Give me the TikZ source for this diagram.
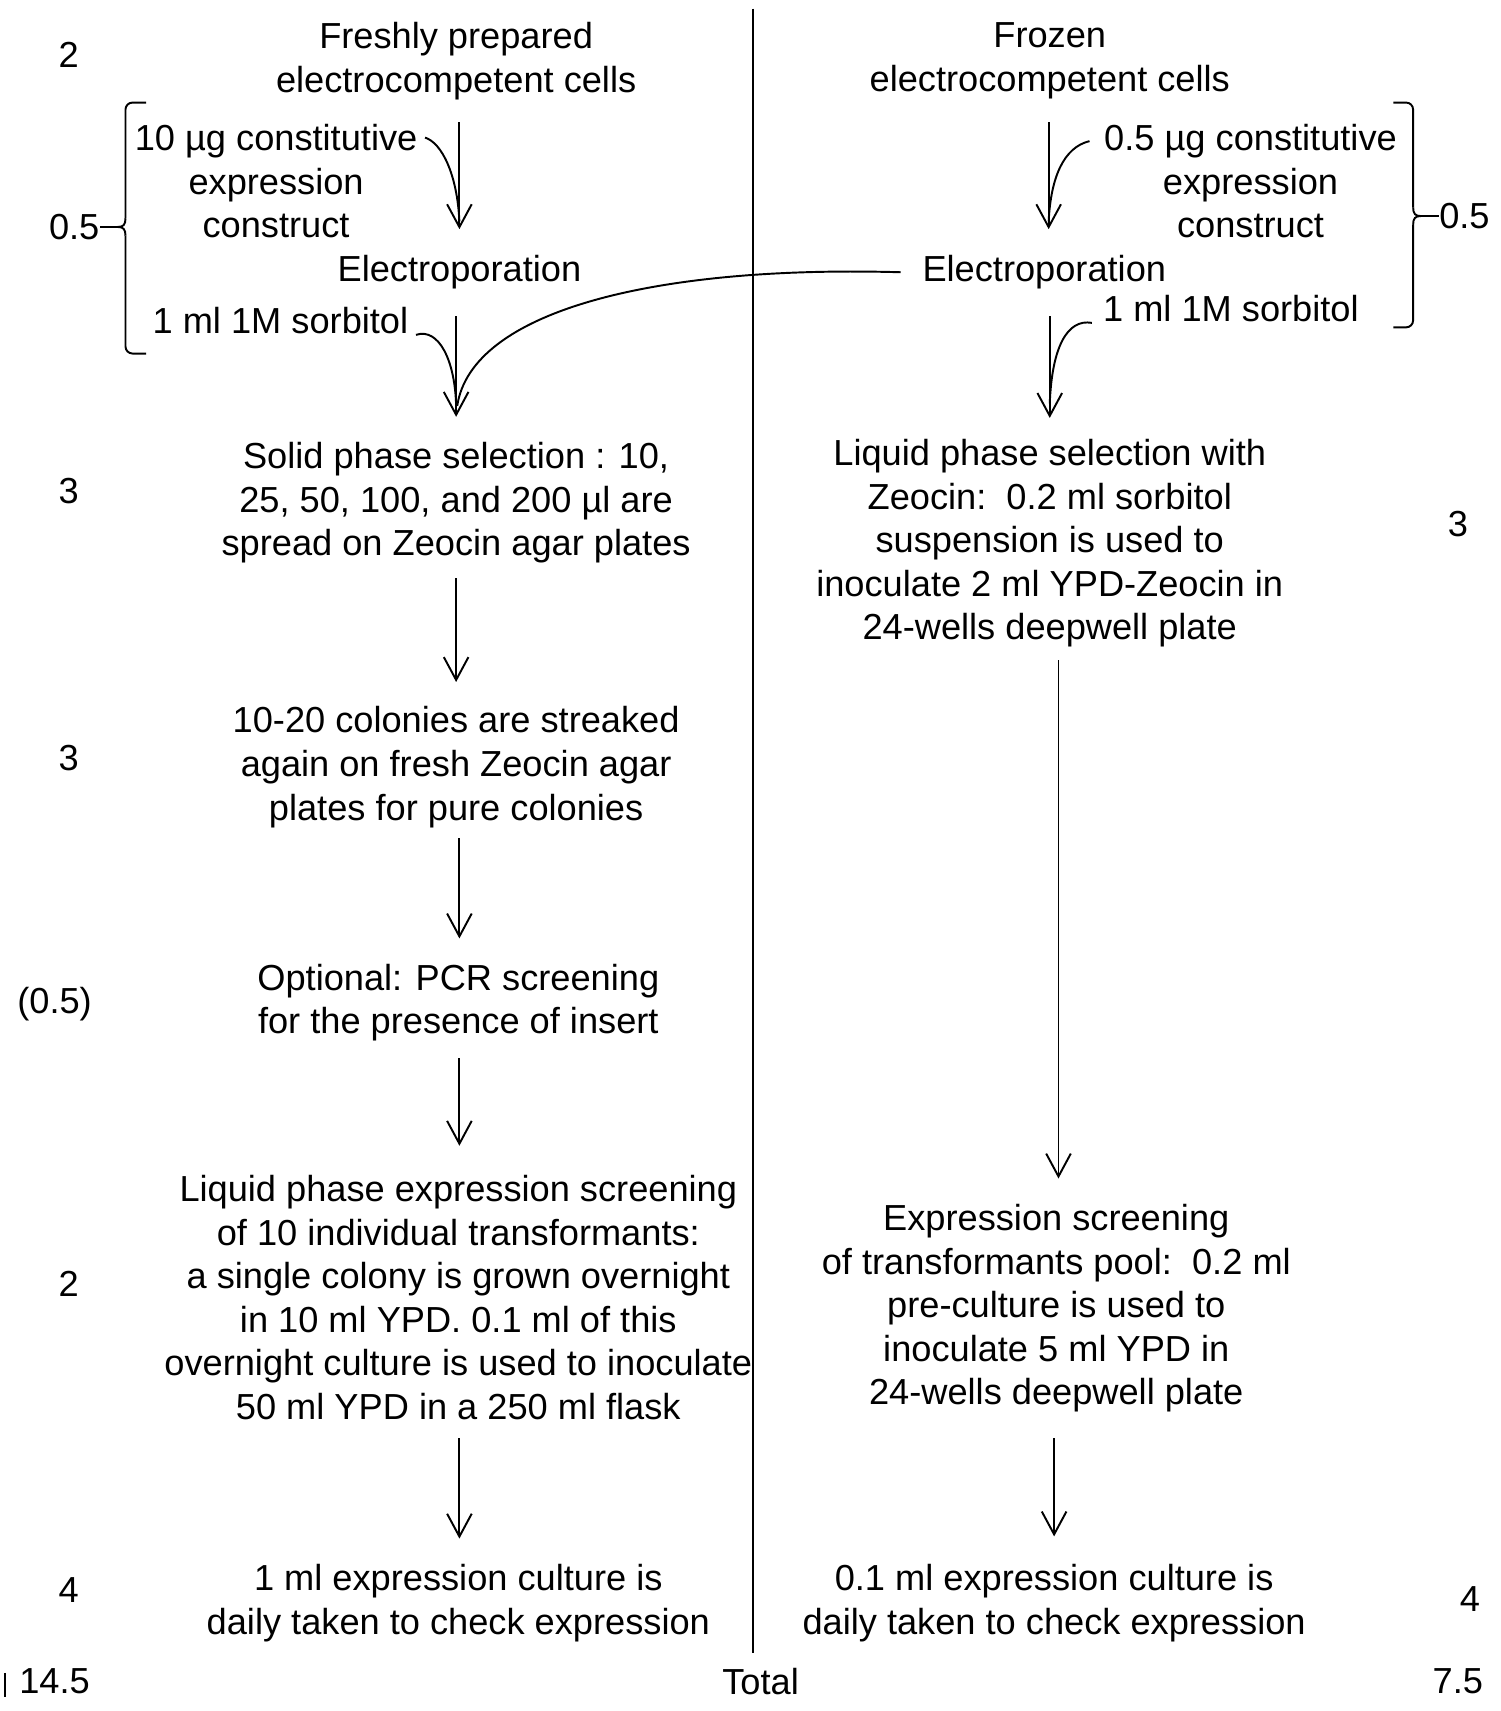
\documentclass[tikz,border=0pt]{standalone}
\usepackage{fontspec}
\setmainfont{Liberation Sans}
\usetikzlibrary{arrows.meta}
\begin{document}
\begin{tikzpicture}[x=0.010909cm, y=-0.010909cm,
  txt/.style={align=center, inner sep=0pt, font=\fontsize{10.3}{12.4}\selectfont},
  arr/.style={-{Straight Barb[length=6.5pt,width=7pt]}, line width=0.55pt},
  ln/.style={line width=0.55pt},
  brk/.style={line width=0.55pt, rounded corners=2pt}]
\useasboundingbox (0,0) rectangle (1375,1568);

% divider
\draw[ln] (690,8) coordinate (divtop) -- (690,1515) coordinate (divbot);
\draw[ln] (5,1533) coordinate (tk1) -- (5,1555) coordinate (tk2);

% ---------- left column ----------
\node[txt] (freshL) at (418,56) {Freshly prepared\\electrocompetent cells};
\node[txt] (constrL) at (253,166) {10 µg constitutive\\expression\\construct};
\node[txt] (electroL) at (421,249.5) {Electroporation};
\node[txt] (sorbL) at (257,294) {1 ml 1M sorbitol};
\node[txt] (solid) at (418,461) {Solid phase selection : 10,\\25, 50, 100, and 200 µl are\\spread on Zeocin agar plates};
\node[txt] (colon) at (418,703) {10-20 colonies are streaked\\again on fresh Zeocin agar\\plates for pure colonies};
\node[txt] (optn) at (420,919) {Optional: PCR screening\\for the presence of insert};
\node[txt] (lqexpr) at (420,1189) {Liquid phase expression screening\\of 10 individual transformants:\\a single colony is grown overnight\\in 10 ml YPD. 0.1 ml of this\\overnight culture is used to inoculate\\50 ml YPD in a 250 ml flask};
\node[txt] (culL) at (420,1469) {1 ml expression culture is\\daily taken to check expression};

% left numbers
\node[txt] (nL1) at (63,50) {2};
\node[txt] (nL2) at (68,208) {0.5};
\node[txt] (nL3) at (63,450) {3};
\node[txt] (nL4) at (63,695) {3};
\node[txt] (nL5) at (50,920) {(0.5)};
\node[txt] (nL6) at (63,1177) {2};
\node[txt] (nL7) at (63,1457) {4};
\node[txt] (totL) at (50,1541) {14.5};
\node[txt] (tot) at (697,1541) {Total};

% ---------- right column ----------
\node[txt] (frozR) at (962,56) {Frozen\\electrocompetent cells};
\node[txt] (constrR) at (1146,166) {0.5 µg constitutive\\expression\\construct};
\node[txt] (electroR) at (957,249.5) {Electroporation};
\node[txt] (sorbR) at (1128,283) {1 ml 1M sorbitol};
\node[txt] (lqsel) at (962,498) {Liquid phase selection with\\Zeocin:\ \ 0.2 ml sorbitol\\suspension is used to\\inoculate 2 ml YPD-Zeocin in\\24-wells deepwell plate};
\node[txt] (exprR) at (968,1199) {Expression screening\\of transformants pool:\ \ 0.2 ml\\pre-culture is used to\\inoculate 5 ml YPD in\\24-wells deepwell plate};
\node[txt] (culR) at (966,1469) {0.1 ml expression culture is\\daily taken to check expression};

% right numbers
\node[txt] (nR1) at (1342,198) {0.5};
\node[txt] (nR2) at (1336,480) {3};
\node[txt] (nR3) at (1347,1465) {4};
\node[txt] (totR) at (1336,1541) {7.5};

% ---------- arrow end points ----------
\coordinate (aL1s) at (421,112); \coordinate (aL1e) at (421,210);
\coordinate (aL2s) at (418,290); \coordinate (aL2e) at (418,382);
\coordinate (aL3s) at (418,530); \coordinate (aL3e) at (418,625);
\coordinate (aL4s) at (421,768); \coordinate (aL4e) at (421,860);
\coordinate (aL5s) at (421,970); \coordinate (aL5e) at (421,1050);
\coordinate (aL6s) at (421,1318); \coordinate (aL6e) at (421,1410);
\coordinate (aR1s) at (961,112); \coordinate (aR1e) at (961,210);
\coordinate (aR2s) at (962,290); \coordinate (aR2e) at (962,383);
\coordinate (aR3s) at (970,605); \coordinate (aR3e) at (970,1080);
\coordinate (aR4s) at (966,1318); \coordinate (aR4e) at (966,1408);

\draw[arr] (aL1s) -- (aL1e);
\draw[arr] (aL2s) -- (aL2e);
\draw[arr] (aL3s) -- (aL3e);
\draw[arr] (aL4s) -- (aL4e);
\draw[arr] (aL5s) -- (aL5e);
\draw[arr] (aL6s) -- (aL6e);
\draw[arr] (aR1s) -- (aR1e);
\draw[arr] (aR2s) -- (aR2e);
\draw[arr] (aR3s) -- (aR3e);
\draw[arr] (aR4s) -- (aR4e);

% curved feeders
\draw[ln] ([xshift=2pt,yshift=-4pt]constrL.north east) .. controls (405,131) and (419,160) .. (421,203);
\draw[ln] ([xshift=2pt,yshift=-4pt]sorbL.east) .. controls (402,300) and (417,330) .. (418,372);
\draw[ln] ([xshift=-6pt]electroR.west) .. controls (600,243) and (432,285) .. (419,372);
\draw[ln] ([xshift=-4pt,yshift=-5pt]constrR.north west) .. controls (975,135) and (963,162) .. (961,203);
\draw[ln] ([xshift=-3pt,yshift=-4pt]sorbR.west) .. controls (978,292) and (964,318) .. (962,370);

% brackets
\coordinate (bLt) at (134,94);
\coordinate (bLb) at (134,324);
\coordinate (bLc) at (108,208);
\draw[brk] (bLt) -- (115,94) -- (115,200);
\draw[ln] (115,200) .. controls (115,206) and (113,208) .. (bLc);
\draw[brk] (bLb) -- (115,324) -- (115,216);
\draw[ln] (115,216) .. controls (115,210) and (113,208) .. (bLc);
\draw[ln] (bLc) -- (nL2.east);

\coordinate (bRt) at (1277,94);
\coordinate (bRb) at (1277,300);
\coordinate (bRc) at (1302,198);
\draw[brk] (bRt) -- (1295,94) -- (1295,190);
\draw[ln] (1295,190) .. controls (1295,196) and (1297,198) .. (bRc);
\draw[brk] (bRb) -- (1295,300) -- (1295,206);
\draw[ln] (1295,206) .. controls (1295,200) and (1297,198) .. (bRc);
\draw[ln] (bRc) -- (nR1.west);
\end{tikzpicture}
\end{document}
